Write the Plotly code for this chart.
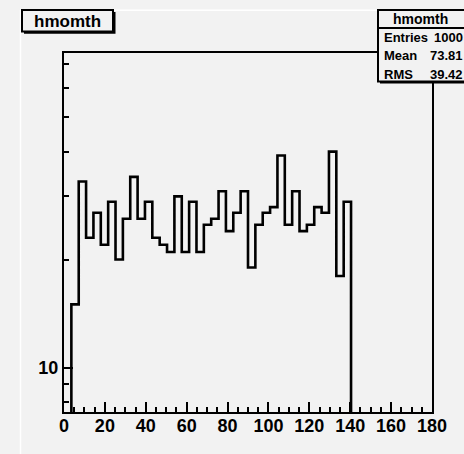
import plotly.graph_objects as go

# ---- data ----
hist_name = "hmomth"
nbins = 50
xmin, xmax = 0.0, 180.0
counts = [0, 15, 33, 23, 27, 22, 29, 20, 26, 34,
          26, 29, 23, 22, 21, 30, 21, 29, 21, 25,
          26, 31, 24, 27, 31, 19, 25, 27, 28, 39,
          25, 31, 24, 25, 28, 27, 40, 18, 29, 0,
          0, 0, 0, 0, 0, 0, 0, 0, 0, 0]
stats_labels = ["Entries", "Mean", "RMS"]
stats_values = ["1000", "73.81", "39.42"]
x_tickvals = [0, 20, 40, 60, 80, 100, 120, 140, 160, 180]
y_tickvals = [10]
y_minor_vals = [8, 9, 20, 30, 40, 50, 60, 70]
y_range_log = [0.876, 1.877]

# ---- derived histogram outline (step) ----
width = (xmax - xmin) / nbins
edges = [xmin + i * width for i in range(nbins + 1)]
floor_val = 1e-3  # empty bins drop below the axis (ROOT draws them at the bottom)
xs = edges[:-1] + [edges[-1]]
ys = [c if c > 0 else floor_val for c in counts] + [counts[-1] if counts[-1] > 0 else floor_val]

W, H = 464, 454
ML, MR, MT, MB = 64, 32, 53, 42
PW, PH = W - ML - MR, H - MT - MB
BG = "#f2f2f2"
FONT = "Liberation Sans"


def px(x):
    return (x - ML) / PW


def py(y):
    return (H - MB - y) / PH


fig = go.Figure()
fig.add_trace(go.Scatter(x=xs, y=ys, mode="lines", line_shape="hv",
                         line=dict(color="black", width=2.6),
                         hoverinfo="skip", showlegend=False))

axis_font = dict(family=FONT, size=18, color="black", weight="bold")
fig.update_xaxes(range=[xmin, xmax], showgrid=False, zeroline=False,
                 showline=True, linecolor="black", linewidth=2, mirror=True,
                 ticks="inside", ticklen=10, tickwidth=2, tickcolor="black",
                 tickmode="array", tickvals=x_tickvals, ticklabelstandoff=-4,
                 ticktext=[str(v) for v in x_tickvals], tickfont=axis_font,
                 minor=dict(ticks="inside", ticklen=5, tickwidth=2, tickcolor="black",
                            dtick=5, tick0=0, showgrid=False))
fig.update_yaxes(type="log", range=y_range_log, showgrid=False, zeroline=False,
                 showline=True, linecolor="black", linewidth=2, mirror=True,
                 ticks="inside", ticklen=9, tickwidth=2, tickcolor="black",
                 tickmode="array", tickvals=y_tickvals,
                 ticktext=[str(v) for v in y_tickvals], tickfont=axis_font,
                 minor=dict(ticks="inside", ticklen=5, tickwidth=2, tickcolor="black",
                            tickmode="array", tickvals=y_minor_vals, showgrid=False))

shapes = []
# canvas bevel (white highlight top/left)
shapes.append(dict(type="line", xref="paper", yref="paper",
                   x0=px(20.5), x1=px(20.5), y0=py(10), y1=py(H + 2),
                   line=dict(color="white", width=1.5), layer="above"))
shapes.append(dict(type="line", xref="paper", yref="paper",
                   x0=px(20), x1=px(W + 2), y0=py(10.2), y1=py(10.2),
                   line=dict(color="white", width=1.5), layer="above"))
# title box with shadow
shapes.append(dict(type="rect", xref="paper", yref="paper",
                   x0=px(24), x1=px(115.5), y0=py(12), y1=py(33.8),
                   fillcolor="black", line=dict(width=0), layer="above"))
shapes.append(dict(type="rect", xref="paper", yref="paper",
                   x0=px(22), x1=px(113), y0=py(10), y1=py(31.5),
                   fillcolor=BG, line=dict(color="black", width=2), layer="above"))
# stats box with shadow
shapes.append(dict(type="rect", xref="paper", yref="paper",
                   x0=px(380), x1=px(472), y0=py(12), y1=py(83.5),
                   fillcolor="black", line=dict(width=0), layer="above"))
shapes.append(dict(type="rect", xref="paper", yref="paper",
                   x0=px(378), x1=px(470), y0=py(10), y1=py(81.5),
                   fillcolor=BG, line=dict(color="black", width=2), layer="above"))
shapes.append(dict(type="line", xref="paper", yref="paper",
                   x0=px(378), x1=px(470), y0=py(28), y1=py(28),
                   line=dict(color="black", width=2), layer="above"))

annotations = []
annotations.append(dict(text=hist_name, xref="paper", yref="paper",
                        x=px(67), y=py(21), xanchor="center", yanchor="middle",
                        showarrow=False, font=dict(family=FONT, size=17, color="black", weight="bold")))
annotations.append(dict(text=hist_name, xref="paper", yref="paper",
                        x=px(420), y=py(19), xanchor="center", yanchor="middle",
                        showarrow=False, font=dict(family=FONT, size=14, color="black", weight="bold")))
stat_font = dict(family=FONT, size=13, color="black", weight="bold")
for i, (lab, val) in enumerate(zip(stats_labels, stats_values)):
    yy = 37.5 + i * 18.3
    annotations.append(dict(text=lab, xref="paper", yref="paper", x=px(382), y=py(yy),
                            xanchor="left", yanchor="middle", showarrow=False, font=stat_font))
    annotations.append(dict(text=val, xref="paper", yref="paper", x=px(464.5), y=py(yy),
                            xanchor="right", yanchor="middle", showarrow=False, font=stat_font))

fig.update_layout(width=W, height=H, margin=dict(l=ML, r=MR, t=MT, b=MB),
                  paper_bgcolor=BG, plot_bgcolor=BG, shapes=shapes,
                  annotations=annotations, showlegend=False)

fig.write_html("out.html")
